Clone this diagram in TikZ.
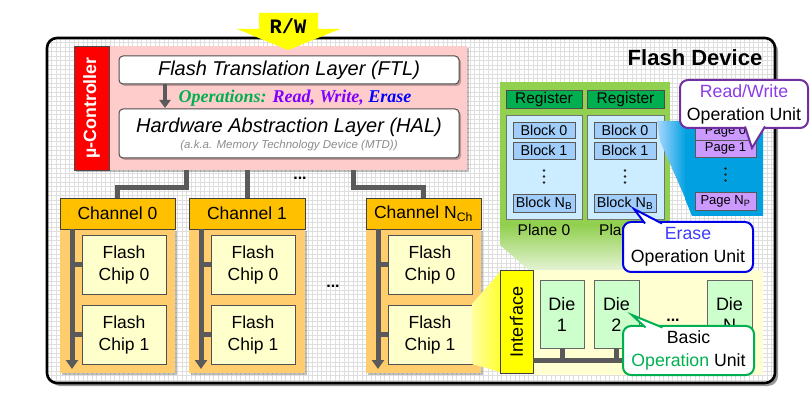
\documentclass[tikz,border=0pt]{standalone}
\usepackage{fontspec}
\setmainfont{Liberation Sans}
\newfontfamily\opfont{Liberation Serif}
\newfontfamily\rwfont{Liberation Mono}
\usetikzlibrary{arrows.meta,shadows,calc}
\newcommand\fsz[2]{\fontsize{#1}{#2}\selectfont}
\definecolor{pinkbg}{RGB}{255,204,204}
\definecolor{ctrlred}{RGB}{255,0,0}
\definecolor{chorange}{RGB}{255,192,0}
\definecolor{colorange}{RGB}{255,204,110}
\definecolor{chipyellow}{RGB}{255,255,204}
\definecolor{planegreen}{RGB}{146,208,80}
\definecolor{reggreen}{RGB}{0,176,80}
\definecolor{planeblue}{RGB}{204,236,255}
\definecolor{blockblue}{RGB}{160,205,250}
\definecolor{pagepurple}{RGB}{204,153,255}
\definecolor{deepblue}{RGB}{0,160,225}
\definecolor{lightblue}{RGB}{170,215,255}
\definecolor{diegreen}{RGB}{204,255,204}
\definecolor{ifyellow}{RGB}{255,255,0}
\definecolor{botyellow}{RGB}{255,255,210}
\definecolor{wedgeyellow}{RGB}{255,255,160}
\definecolor{cpurple}{RGB}{112,48,160}
\definecolor{tpurple}{RGB}{140,60,230}
\definecolor{opviolet}{RGB}{128,0,255}
\definecolor{cblue}{RGB}{0,0,230}
\definecolor{tblue}{RGB}{60,60,255}
\definecolor{cgreen}{RGB}{0,176,80}
\definecolor{opgreen}{RGB}{0,176,80}
\definecolor{busgray}{RGB}{90,90,90}
\definecolor{edgegray}{RGB}{80,80,80}
\definecolor{gridgray}{RGB}{222,222,222}
\begin{document}
\begin{tikzpicture}[x=1pt,y=-1pt,
  every node/.style={inner sep=0pt,outer sep=0pt},
  nw/.style={anchor=north west, align=center},
  busline/.style={line width=5pt, draw=busgray},
  thinbox/.style={nw, draw=edgegray, line width=0.8pt},
  softshadow/.style={drop shadow={shadow xshift=2pt,shadow yshift=-2pt,opacity=0.25,fill=black}},
  chipbox/.style={thinbox, fill=chipyellow, minimum width=84, minimum height=59, font=\fsz{17.5}{22}},
  chbox/.style={thinbox, fill=chorange, minimum height=31, font=\fsz{17.5}{20}, draw=black!75},
  colbox/.style={nw, fill=colorange, minimum height=144, softshadow},
  regbox/.style={thinbox, fill=reggreen, minimum height=18, font=\fsz{15.5}{18}, draw=black!70},
  planebox/.style={thinbox, fill=planeblue, minimum height=104, draw=black!55},
  blockbox/.style={thinbox, fill=blockblue, minimum width=62, font=\fsz{14.3}{16}, draw=black!65},
  pagebox/.style={thinbox, fill=pagepurple, minimum width=61, font=\fsz{13}{15}, draw=black!65},
  diebox/.style={thinbox, fill=diegreen, minimum height=68, font=\fsz{18}{21}, draw=black!60},
  layerbox/.style={nw, fill=white, draw=black!70, line width=1pt, rounded corners=4pt, minimum width=340, softshadow},
  callbox/.style={fill=white, line width=2pt, rounded corners=8pt, align=center, font=\fsz{17.7}{23}},
  calltail/.style={fill=white, line width=2pt, line join=miter},
  dots/.style={font=\fsz{16}{16}\bfseries},
  vdot/.style={circle, fill=black!85, minimum size=2.6pt}
]
\useasboundingbox (0,0) rectangle (812,406);

% ---------- frame ----------
\fill[black!40, rounded corners=10pt] (50,41) rectangle (778,386);
\fill[white, rounded corners=10pt] (47,38) rectangle (775,383);
\begin{scope}
  \clip[rounded corners=10pt] (47,38) rectangle (775,383);
  \foreach \gx in {47,51.5,...,775} \draw[gridgray, line width=0.35pt] (\gx,38) -- (\gx,383);
  \foreach \gy in {38,42.5,...,383} \draw[gridgray, line width=0.35pt] (47,\gy) -- (775,\gy);
\end{scope}
\draw[black, line width=2.6pt, rounded corners=10pt] (47,38) rectangle (775,383);
\node[font=\fsz{22}{24}\bfseries] (devtitle) at (695,57.5) {Flash Device};

% ---------- micro controller ----------
\node[nw, fill=pinkbg, minimum width=393, minimum height=124, softshadow] (mu) at (74,46) {};
\node[nw, fill=ctrlred, draw=black!70, line width=0.8pt, minimum width=35, minimum height=124] (ctrl) at (74,46) {};
\node[rotate=90, text=white, font=\fsz{17.8}{20}\bfseries] (ctrltxt) at (ctrl.center) {µ-Controller};
\node[layerbox, minimum height=28, font=\fsz{20}{22}\itshape] (ftl) at (119,56) {Flash Translation Layer (FTL)};
\node[layerbox, minimum height=49] (hal) at (119,109) {};
\node[font=\fsz{20}{22}\itshape] (haltxt) at (289,127.5) {Hardware Abstraction Layer (HAL)};
\node[font=\fsz{11.5}{13}\itshape, text=black!45] (mtd) at (289,146) {(a.k.a. Memory Technology Device (MTD))};
\coordinate (opA) at ($(ftl.south west)+(46,0)$);
\coordinate (opB) at ($(hal.north west)+(46,-1)$);
\draw[line width=4pt, busgray, -{Triangle[length=8pt,width=11pt]}] (opA) -- (opB);
\node[font=\opfont\bfseries\itshape\fsz{18}{20}] (ops) at (295,98)
  {\textcolor{opgreen}{Operations:} \textcolor{opviolet}{Read, Write,} \textcolor{blue}{Erase}};

% ---------- R/W arrow ----------
\path[fill=ifyellow] (259,13) -- (318,13) -- (318,29) -- (340,29) -- (288,50) -- (237,29) -- (259,29) -- cycle;
\node[font=\rwfont\bfseries\fsz{20.5}{22}] (rw) at (288,26) {R/W};

% ---------- channels ----------
\foreach \i/\x/\w/\lab in {0/60/115/{Channel 0},1/189/116/{Channel 1},n/366/115/{Channel N\textsubscript{Ch}}} {
  \node[colbox, minimum width=\w] (col\i) at (\x,229) {};
  \node[chbox, minimum width=\w] (ch\i) at (\x,198) {\lab};
  \node[chipbox] (chipA\i) at (\x+22,235) {Flash\\Chip 0};
  \node[chipbox] (chipB\i) at (\x+22,305) {Flash\\Chip 1};
  \coordinate (top\i) at (\x+12,229);
  \coordinate (bot\i) at (\x+12,369);
  \draw[line width=5pt, busgray, -{Triangle[length=9pt,width=12pt]}] (top\i) -- (bot\i);
  \draw[busline] (chipA\i.west) -- (chipA\i.west -| top\i);
  \draw[busline] (chipB\i.west) -- (chipB\i.west -| top\i);
}
\coordinate (bus0) at (186,170);
\coordinate (bus1) at (ch1.north |- mu.south);
\coordinate (bus2) at (353,170);
\draw[busline] (bus0) -- ++(0,18) -| (ch0.north);
\draw[busline] (bus1) -- (ch1.north);
\draw[busline] (bus2) -- ++(0,18) -| (chn.north);
\node[dots] (dotsA) at (300,178) {...};
\node[dots] (dotsB) at (333,286) {...};

% ---------- die / plane zoom ----------
\fill[planegreen] (500,82) rectangle (670,226);
\shade[top color=planegreen, bottom color=planegreen!8] (500,225) -- (670,225) -- (639,280) -- (540,280) -- (500,245) -- cycle;
\foreach \p/\x/\w in {0/506/76,1/587/77} {
  \node[regbox, minimum width=\w] (reg\p) at (\x,90) {Register};
  \node[planebox, minimum width=\w] (plane\p) at (\x,115) {};
  \node[blockbox, minimum height=16] (blkA\p) at (\x+7,122) {Block 0};
  \node[blockbox, minimum height=17] (blkB\p) at (\x+7,142) {Block 1};
  \node[blockbox, minimum height=18] (blkN\p) at (\x+7,194) {Block N\textsubscript{B}};
  \coordinate (vd\p) at ($(blkB\p.south)!0.5!(blkN\p.north)$);
  \foreach \k in {-6,0,6} \node[vdot] at ($(vd\p)+(0,\k)$) {};
  \node[font=\fsz{15.5}{18}] (plab\p) at ($(plane\p.south)+(0,11)$) {Plane \p};
}
% blue page zoom
\shade[left color=lightblue, right color=deepblue] (657,121) -- (686,121) -- (686,200) -- (660,141) -- cycle;
\fill[deepblue] (685,121) -- (763,121) -- (763,216) -- (692,216) -- (685,199) -- cycle;
\node[pagebox, minimum height=17] (pg0) at (695,123) {Page 0};
\node[pagebox, minimum height=17] (pg1) at (695,140) {Page 1};
\node[pagebox, minimum height=18] (pgN) at (695,192) {Page N\textsubscript{P}};
\coordinate (vdp) at ($(pg1.south)!0.5!(pgN.north)$);
\foreach \k in {-6,0,6} \node[vdot] at ($(vdp)+(0,\k)$) {};

% ---------- die row ----------
\fill[botyellow] (533,270) rectangle (763,375);
\shade[left color=wedgeyellow, right color=ifyellow!80] (472,304) -- (500,272) -- (500,372) -- (472,364) -- cycle;
\node[nw, fill=ifyellow, draw=black!75, line width=1pt, minimum width=33, minimum height=102] (iface) at (500,271) {};
\node[rotate=90, font=\fsz{18}{20}] (ifacetxt) at (iface.center) {Interface};
\node[diebox, minimum width=44] (die1) at (540,280) {Die\\1};
\node[diebox, minimum width=45] (die2) at (594,280) {Die\\2};
\node[diebox, minimum width=45] (dieN) at (707,280) {Die\\N};
\node[dots] (dotsC) at (673,320) {...};
\coordinate (busend) at (dieN.south |- 0,360);
\draw[busline] (iface.east |- busend) -- (busend);
\foreach \d in {die1,die2,dieN} \draw[busline] (\d.south) -- (\d.south |- busend);

% ---------- callouts ----------
\node[callbox, draw=cpurple, minimum width=128, minimum height=48] (rwc) at (744,104)
  {\textcolor{tpurple}{Read/Write}\\Operation Unit};
\coordinate (rwtip) at (752,148);
\path[calltail, draw=cpurple] ($(rwc.south)+(1,-1.5)$) -- (rwtip) -- ($(rwc.south)+(21,-1.5)$);

\node[callbox, draw=cblue, minimum width=130, minimum height=50] (erc) at (688,247)
  {\textcolor{tblue}{Erase}\\Operation Unit};
\coordinate (ertip) at (634,209);
\path[calltail, draw=cblue] ($(erc.north)+(-43,1.5)$) -- (ertip) -- ($(erc.north)+(-26,1.5)$);

\node[callbox, draw=cgreen, minimum width=131, minimum height=49] (bsc) at (688.5,350.5)
  {Basic\\\textcolor{cgreen}{Operation} Unit};
\coordinate (bstip) at (632,315);
\path[calltail, draw=cgreen] ($(bsc.north)+(-43,1.5)$) -- (bstip) -- ($(bsc.north)+(-26,1.5)$);
\end{tikzpicture}
\end{document}
